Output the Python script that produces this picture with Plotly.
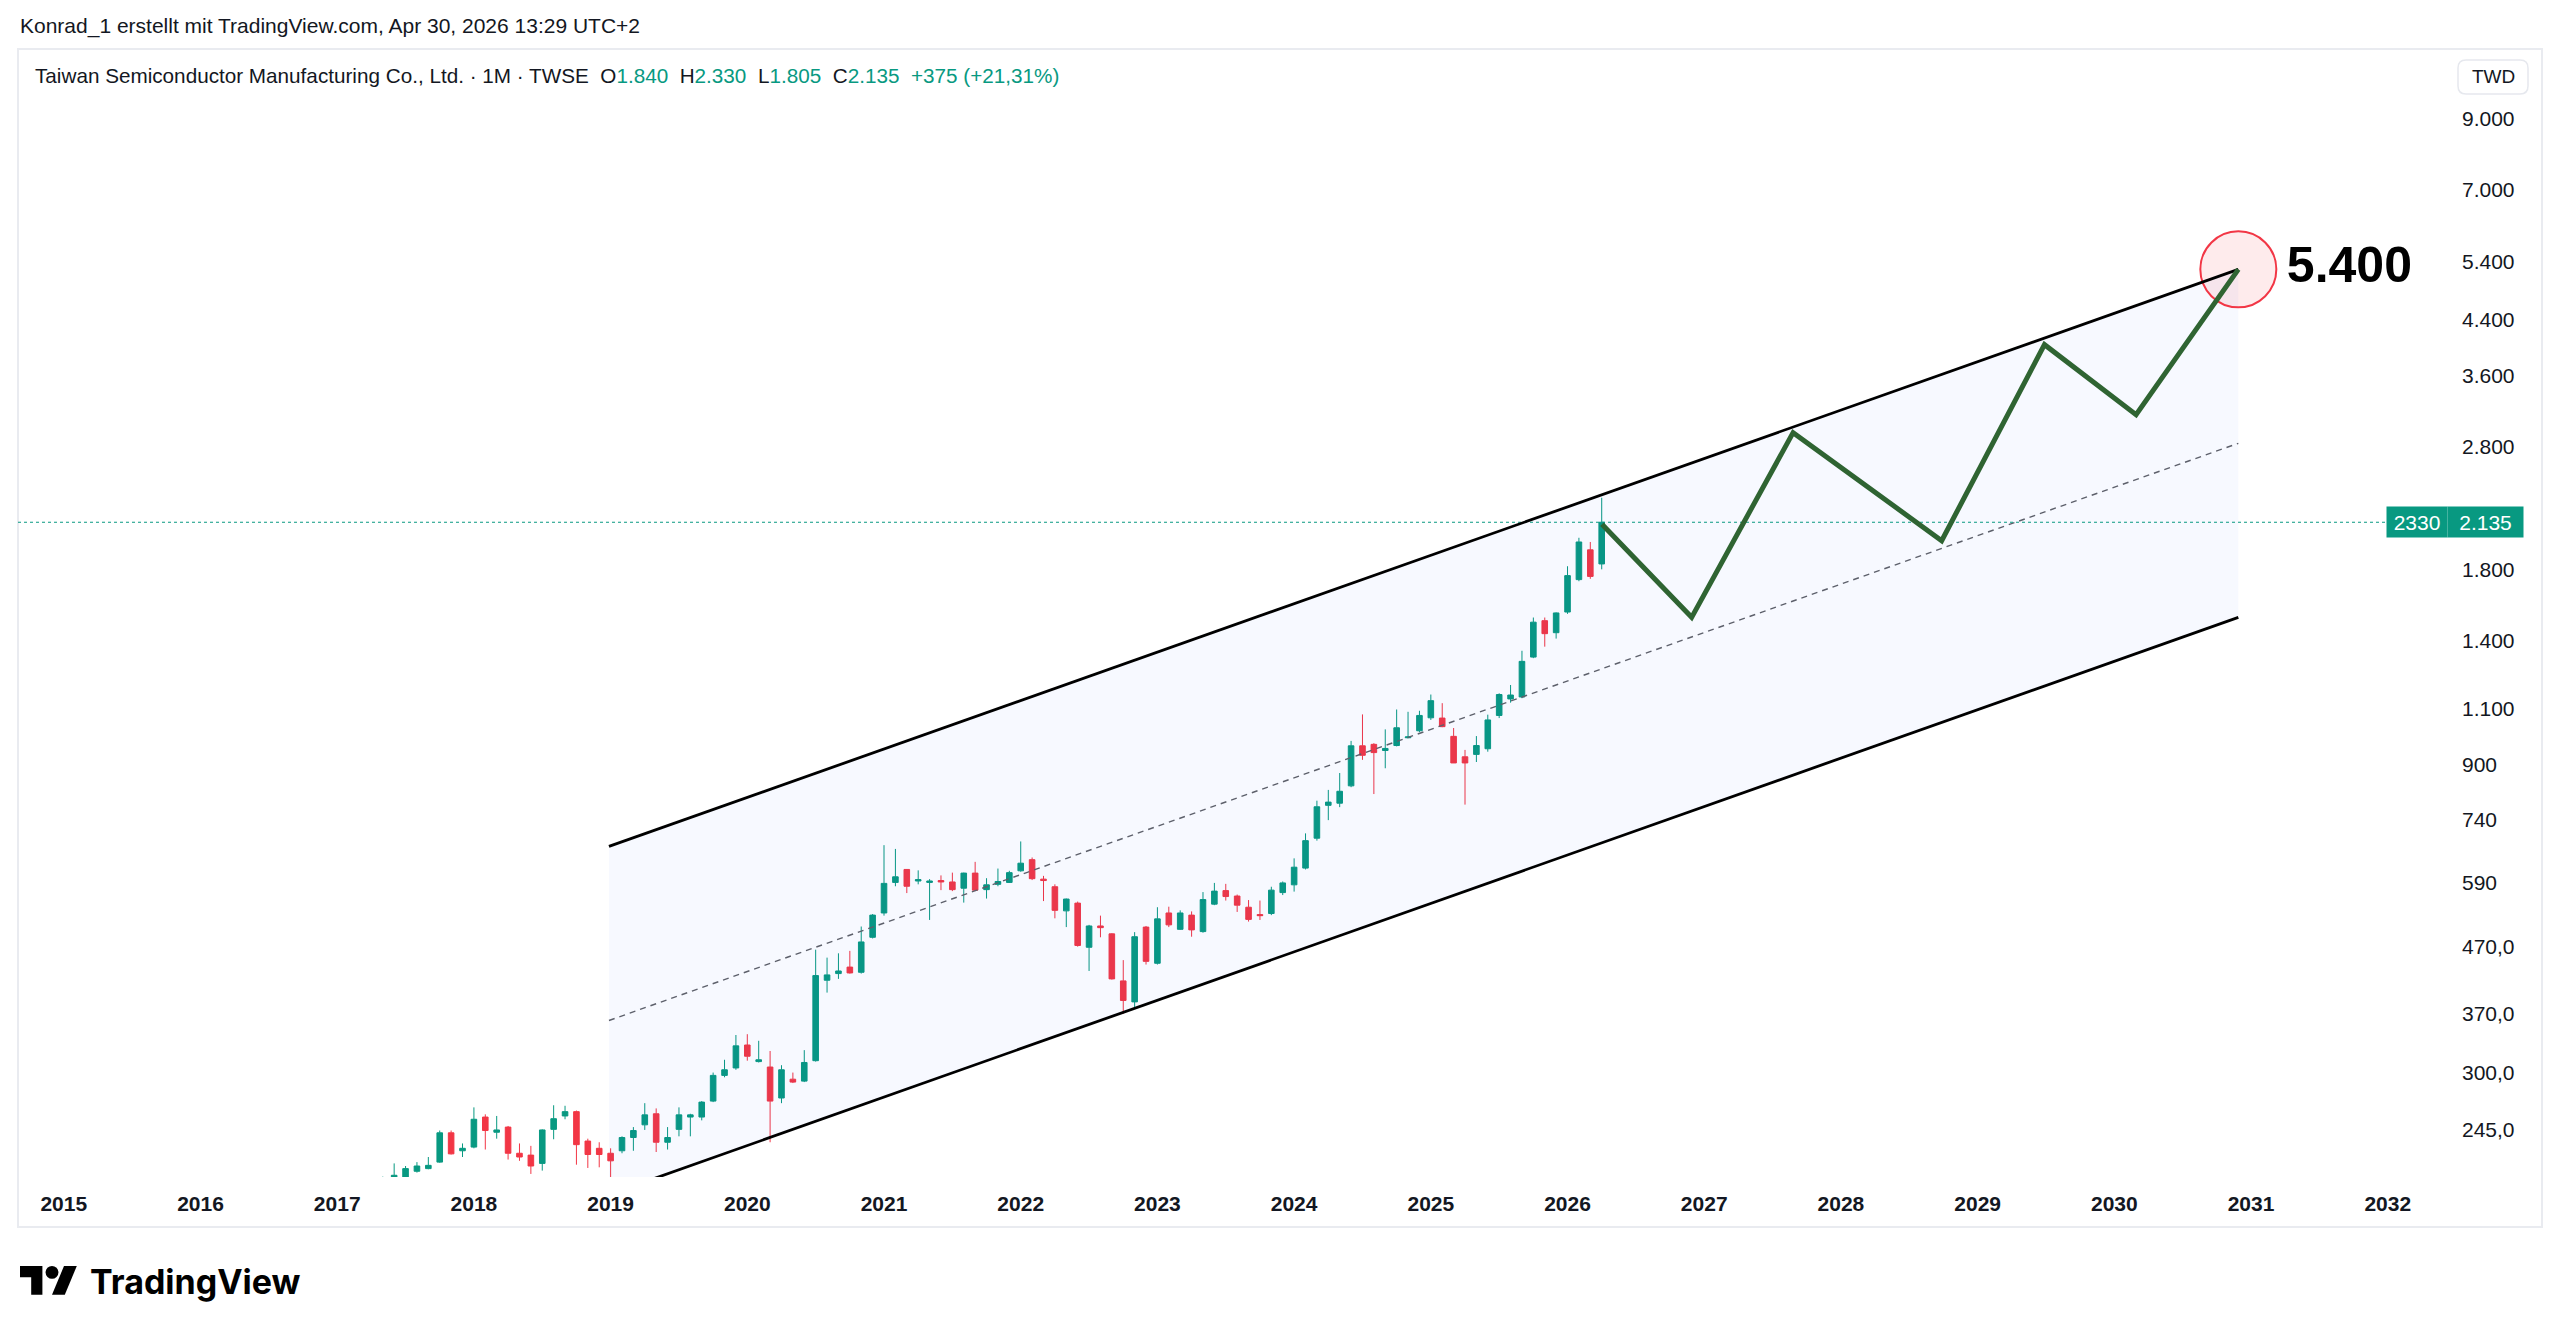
import numpy as np
import plotly.graph_objects as go

# ---------------- data ----------------
months = [
    "2017-05","2017-06","2017-07","2017-08","2017-09","2017-10","2017-11","2017-12",
    "2018-01","2018-02","2018-03","2018-04","2018-05","2018-06","2018-07","2018-08","2018-09","2018-10","2018-11","2018-12",
    "2019-01","2019-02","2019-03","2019-04","2019-05","2019-06","2019-07","2019-08","2019-09","2019-10","2019-11","2019-12",
    "2020-01","2020-02","2020-03","2020-04","2020-05","2020-06","2020-07","2020-08","2020-09","2020-10","2020-11","2020-12",
    "2021-01","2021-02","2021-03","2021-04","2021-05","2021-06","2021-07","2021-08","2021-09","2021-10","2021-11","2021-12",
    "2022-01","2022-02","2022-03","2022-04","2022-05","2022-06","2022-07","2022-08","2022-09","2022-10","2022-11","2022-12",
    "2023-01","2023-02","2023-03","2023-04","2023-05","2023-06","2023-07","2023-08","2023-09","2023-10","2023-11","2023-12",
    "2024-01","2024-02","2024-03","2024-04","2024-05","2024-06","2024-07","2024-08","2024-09","2024-10","2024-11","2024-12",
    "2025-01","2025-02","2025-03","2025-04","2025-05","2025-06","2025-07","2025-08","2025-09","2025-10","2025-11","2025-12",
    "2026-01","2026-02","2026-03","2026-04",
]
opens = [
    195,204,206,211,213,218,242,227,
    230,256,242.5,247,225,223.5,217,245,257,261,235,229,
    225,227,238,249,259,234,245,256,256,271,297,305,
    331,312,306,274,293,291,313,417,427,437,429,486,
    530,591,619,594,591,595,592,579,611,576,587,591,
    616,641,598,582,534,549,469,506,492,416,386,504,
    443,530,500,526,496,547,574,563,541,527,529,570,
    586,622,692,778,784,834,962,967,946,963,990,1015,
    1063,1062,995,925,933,952,1072,1137,1145,1320,1503,1440,
    1550,1740,1935,1840,
]
highs = [
    207,217,215,218,222,244,244,233,
    265,258.5,257,248,233,231,245,267,266.5,262,237,234,
    229,239,247,269,264,247,265,259,271,300,314,343,
    344,336,324,308,300,325,465,452,459,463,505,528,
    675,666,620,617,598,606,612,612,636,600,621,616,
    684,646,605,587,558,552,508,525,493,448,495,506,
    541,542,535,533,571,590,588,566,555,554,582,593,
    644,704,791,822,873,979,1076,971,1020,1095,1086,1090,
    1155,1120,1025,948,996,1075,1160,1195,1350,1520,1520,1548,
    1825,2020,1990,2330,
]
lows = [
    190,200,203,210,212.5,217.5,224,222,
    229,228,237,220,219,209,211.5,236.5,254,216,213.5,214,
    205,225,227,244.5,226,228,239,239,253,270,295,303,
    313,311,234,269,289,290,312,399,419,427,427,484,
    525,583,569,587,517,575,573,550,573,558,583,590,
    614,596,553,520,504,470,431,486,418,370,377,441,
    441,504,499,487,494,545,554,532,514,517,526,565,
    572,619,686,738,773,830,915,810,888,960,988,1010,
    1055,1028,905,780,908,942,1062,1122,1140,1315,1370,1410,
    1540,1730,1745,1805,
]
closes = [
    204,208,213,215,215.5,242,224.5,229,
    254,244,244.5,225,222,215,244.5,254.5,261,232,224,224,
    219,238,244,258,234,238,258,258,270,297,303,330,
    318,314,271,303,290,311,424,425,431,428,478,526,
    589,603,583,597,594,592,576,611,575,586,593,612,
    633,599,595,535,557,472,506,503,419,388,487,446,
    519,508,530,499,556,573,562,545,518,525,575,590,
    624,686,774,787,818,962,930,939,953,1026,993,1072,
    1130,1030,905,905,963,1055,1155,1153,1300,1495,1435,1545,
    1765,1990,1760,2135,
]

# parallel channel (anchor times as decimal years, prices)
channel_t = [2018.988, 2030.907]
channel_upper = [672, 5261]
channel_lower = [194.2, 1521]

# projected zig-zag path
zigzag_t = [2026.252, 2026.908, 2027.650, 2028.737, 2029.489, 2030.159, 2030.907]
zigzag_v = [2120, 1521, 2939, 1999, 4022, 3132, 5261]
target_label = "5.400"

years = list(range(2015, 2033))
ytick_vals = [9000, 7000, 5400, 4400, 3600, 2800, 1800, 1400, 1100, 900, 740, 590, 470, 370, 300, 245]
ytick_text = ["9.000", "7.000", "5.400", "4.400", "3.600", "2.800", "1.800", "1.400", "1.100",
              "900", "740", "590", "470,0", "370,0", "300,0", "245,0"]

symbol_name = "Taiwan Semiconductor Manufacturing Co., Ltd."
symbol_code = "2330"
header_top = "Konrad_1 erstellt mit TradingView.com, Apr 30, 2026 13:29 UTC+2"

# ---------------- styling / layout helpers ----------------
UP = "#089981"
DN = "#f23645"
TXT = "#131722"
FONT = "Liberation Sans, Arial, sans-serif"

W, H = 2560, 1334
L, R, T, B = 18, 2452, 49, 1177          # plot area in pixels

def pxx(x):
    return (x - L) / (R - L)

def pxy(y):
    return (B - y) / (B - T)

def de(v, dec=0):
    s = f"{v:,.{dec}f}"
    return s.replace(",", "X").replace(".", ",").replace("X", ".")

def t_of(m):
    y, mo = m.split("-")
    return int(y) + (int(mo) - 1) / 12.0

x = [t_of(m) for m in months]
x_range = [2014.665, 2032.470]
y_range = [2.3154, 4.0623]

fig = go.Figure()

# channel fill
fig.add_trace(go.Scatter(
    x=[channel_t[0], channel_t[1], channel_t[1], channel_t[0]],
    y=[channel_upper[0], channel_upper[1], channel_lower[1], channel_lower[0]],
    fill="toself", fillcolor="rgba(41,98,255,0.035)", line=dict(width=0),
    mode="lines", hoverinfo="skip", showlegend=False))

# mid line (geometric mean of channel borders on log scale)
mid = [float(np.sqrt(u * l)) for u, l in zip(channel_upper, channel_lower)]
fig.add_trace(go.Scatter(
    x=channel_t, y=mid, mode="lines",
    line=dict(color="#5d606b", width=1.4, dash="6px,5px"),
    hoverinfo="skip", showlegend=False))

# current price line
fig.add_trace(go.Scatter(
    x=x_range, y=[closes[-1], closes[-1]], mode="lines",
    line=dict(color=UP, width=1, dash="dot"), hoverinfo="skip", showlegend=False))

# candles
fig.add_trace(go.Candlestick(
    x=x, open=opens, high=highs, low=lows, close=closes,
    increasing=dict(line=dict(color=UP, width=1), fillcolor=UP),
    decreasing=dict(line=dict(color=DN, width=1), fillcolor=DN),
    whiskerwidth=0, hoverinfo="none", showlegend=False))

# target circle + label
fig.add_trace(go.Scatter(
    x=[zigzag_t[-1]], y=[zigzag_v[-1]], mode="markers+text",
    marker=dict(size=76, color="rgba(242,54,69,0.10)", line=dict(color="#f23645", width=2)),
    text=[target_label], textposition="middle right",
    textfont=dict(family="Liberation Sans, Arial, sans-serif", size=50, color="#000000", weight=700),
    hoverinfo="skip", showlegend=False))

# channel borders
for border in (channel_upper, channel_lower):
    fig.add_trace(go.Scatter(
        x=channel_t, y=border, mode="lines",
        line=dict(color="#000000", width=2.8), hoverinfo="skip", showlegend=False))

# zig-zag projection
fig.add_trace(go.Scatter(
    x=zigzag_t, y=zigzag_v, mode="lines",
    line=dict(color="#2f6432", width=5), hoverinfo="skip", showlegend=False))

# ---------------- annotations ----------------
o, h, l, c = opens[-1], highs[-1], lows[-1], closes[-1]
chg = c - closes[-2]
pct = chg / closes[-2] * 100
g = f"<span style='color:{UP}'>"
legend = (f"{symbol_name} · 1M · TWSE  O{g}{de(o)}</span>  H{g}{de(h)}</span>  "
          f"L{g}{de(l)}</span>  C{g}{de(c)}</span>  {g}{'+' if chg >= 0 else ''}{de(chg)} "
          f"({'+' if pct >= 0 else ''}{de(pct, 2)}%)</span>")

ann = [
    dict(text=header_top, x=pxx(18), y=pxy(26), xref="paper", yref="paper",
         xanchor="left", yanchor="middle", showarrow=False,
         font=dict(family=FONT, size=21, color=TXT)),
    dict(text=legend, x=pxx(33), y=pxy(75), xref="paper", yref="paper",
         xanchor="left", yanchor="middle", showarrow=False,
         font=dict(family=FONT, size=20.7, color=TXT)),
    dict(text=symbol_code, x=pxx(2417), y=float(np.log10(c)), xref="paper", yref="y",
         xanchor="center", yanchor="middle", showarrow=False, bgcolor=UP,
         width=58, height=28, borderpad=1,
         font=dict(family=FONT, size=21, color="#ffffff")),
    dict(text=de(c), x=pxx(2485.5), y=float(np.log10(c)), xref="paper", yref="y",
         xanchor="center", yanchor="middle", showarrow=False, bgcolor=UP,
         width=73, height=28, borderpad=1,
         font=dict(family=FONT, size=21, color="#ffffff")),
    dict(text="TWD", x=pxx(2493), y=pxy(77), xref="paper", yref="paper",
         xanchor="center", yanchor="middle", showarrow=False,
         font=dict(family=FONT, size=19, color=TXT)),
    dict(text="TradingView", x=pxx(88), y=pxy(1281), xref="paper", yref="paper",
         xanchor="left", yanchor="middle", showarrow=False,
         font=dict(family="Inter, Liberation Sans, sans-serif", size=34, color="#000000", weight=700)),
]

# ---------------- shapes (frame, buttons, logo) ----------------
def rounded_rect(x0, y0, x1, y1, r):
    X = lambda v: pxx(v)
    Y = lambda v: pxy(v)
    return (f"M {X(x0+r)} {Y(y0)} L {X(x1-r)} {Y(y0)} Q {X(x1)} {Y(y0)} {X(x1)} {Y(y0+r)} "
            f"L {X(x1)} {Y(y1-r)} Q {X(x1)} {Y(y1)} {X(x1-r)} {Y(y1)} "
            f"L {X(x0+r)} {Y(y1)} Q {X(x0)} {Y(y1)} {X(x0)} {Y(y1-r)} "
            f"L {X(x0)} {Y(y0+r)} Q {X(x0)} {Y(y0)} {X(x0+r)} {Y(y0)} Z")

def logo_pt(X, Y):
    return pxx(20 + X * 1.6), pxy(1266 + (Y - 4) * 1.6)

def logo_path(pts):
    s = ""
    for i, (X, Y) in enumerate(pts):
        a, b = logo_pt(X, Y)
        s += ("M " if i == 0 else "L ") + f"{a} {b} "
    return s + "Z"

shapes = [
    dict(type="rect", xref="paper", yref="paper", x0=pxx(18), x1=pxx(2542), y0=pxy(1227), y1=pxy(49),
         line=dict(color="#e9ebf0", width=2), fillcolor="rgba(0,0,0,0)", layer="below"),
    dict(type="path", xref="paper", yref="paper", path=rounded_rect(2458, 60, 2528, 94, 8),
         line=dict(color="#e6e8ee", width=1.5), fillcolor="#ffffff"),
    dict(type="path", xref="paper", yref="paper",
         path=logo_path([(14, 22), (7, 22), (7, 11), (0, 11), (0, 4), (14, 4)]),
         line=dict(width=0), fillcolor="#000000"),
    dict(type="path", xref="paper", yref="paper",
         path=logo_path([(28, 22), (20, 22), (27.5, 4), (35.5, 4)]),
         line=dict(width=0), fillcolor="#000000"),
]
cx0, cy0 = logo_pt(16, 4)
cx1, cy1 = logo_pt(24, 12)
shapes.append(dict(type="circle", xref="paper", yref="paper", x0=cx0, x1=cx1, y0=cy1, y1=cy0,
                   line=dict(width=0), fillcolor="#000000"))

fig.update_layout(
    width=W, height=H,
    margin=dict(l=L, r=W - R, t=T, b=H - B, pad=0),
    paper_bgcolor="#ffffff", plot_bgcolor="#ffffff",
    showlegend=False, hovermode=False,
    annotations=ann, shapes=shapes,
    xaxis=dict(range=x_range, showgrid=False, zeroline=False, showline=False,
               tickmode="array", tickvals=years, ticktext=[str(v) for v in years],
               ticks="", ticklabelstandoff=12,
               tickfont=dict(family=FONT, size=21, color=TXT, weight=700),
               rangeslider=dict(visible=False), fixedrange=True),
    yaxis=dict(type="log", range=y_range, side="right", showgrid=False, zeroline=False,
               showline=False, tickmode="array", tickvals=ytick_vals, ticktext=ytick_text,
               ticks="", ticklabelstandoff=9,
               tickfont=dict(family=FONT, size=21, color=TXT), fixedrange=True),
)

fig.write_html("out.html", include_plotlyjs=True, full_html=True,
               config=dict(displayModeBar=False, staticPlot=True))
